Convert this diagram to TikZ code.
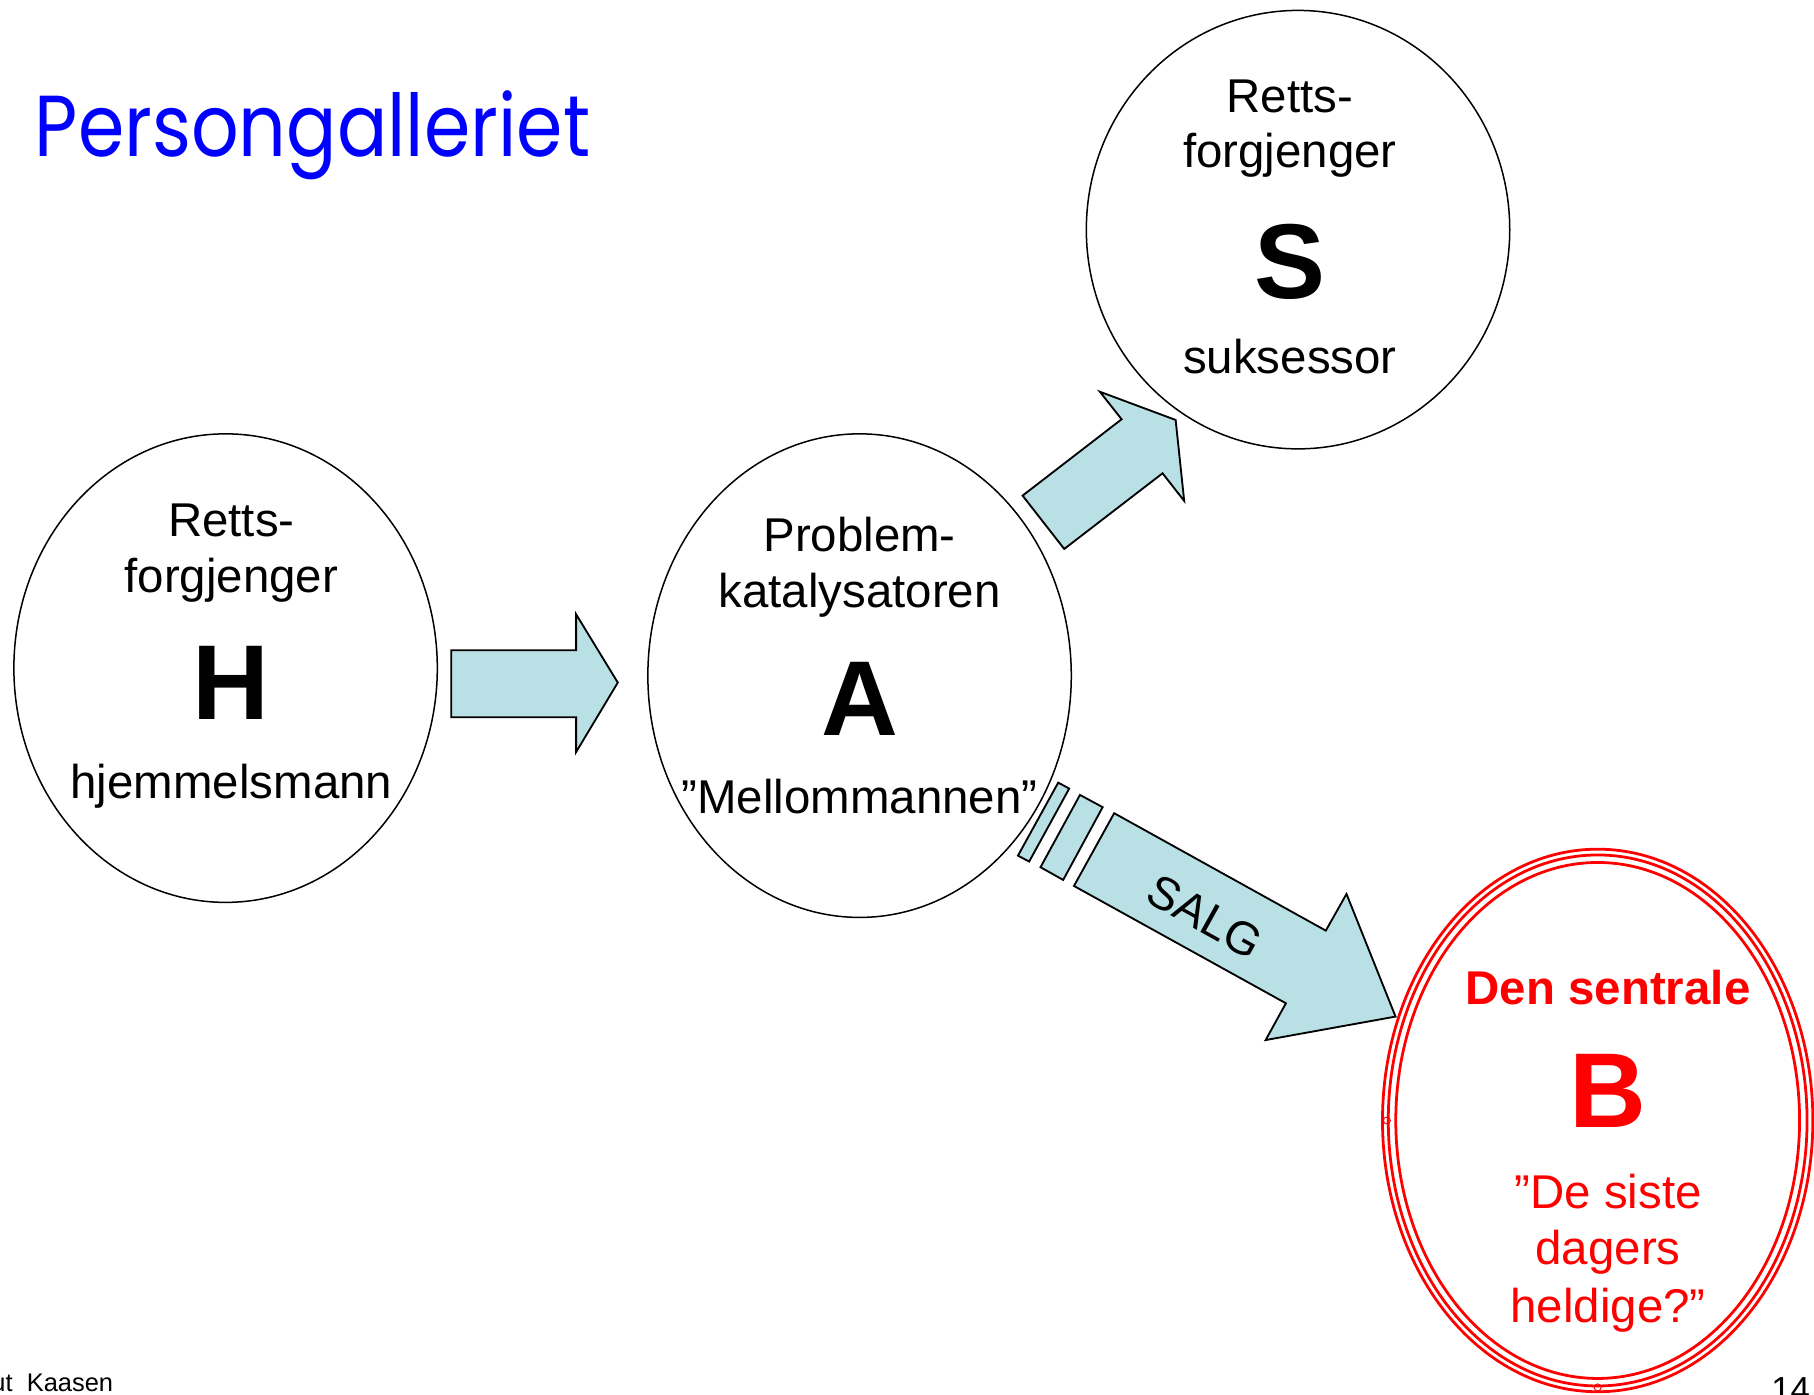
\documentclass[tikz,border=0pt]{standalone}
\usepackage{fontspec}
\setmainfont{Liberation Sans}
\newfontfamily\titlefont{Poppins}
\usetikzlibrary{shapes.geometric}
\definecolor{arrow fill}{RGB}{185,224,228}
\definecolor{title blue}{RGB}{0,0,255}
\def\unit{1pt}
\tikzset{
  word/.style={font=\fontsize{41}{49}\selectfont, anchor=base, inner sep=0pt}, letter/.style={font=\fontsize{92}{92}\selectfont\bfseries, anchor=base, inner sep=0pt}
  }
\tikzstyle{person} = [ellipse, draw=black, line width=1.3pt, inner sep=0pt]
\tikzstyle{ring} = [ellipse, draw=red, line width=2.4pt, inner sep=0pt]
\tikzstyle{block arrow} = [draw=black, line width=1.6pt, fill=arrow fill, line join=miter]

\begin{document}
\begin{tikzpicture}[x=\unit, y=-\unit]
       \useasboundingbox (0,0) rectangle (1568,1205);
       \node[anchor=base west, inner sep=0pt, text=title blue, font=\titlefont\fontsize{64.5}{64.5}\selectfont] (title) at (30,135) {\scalebox{1}[1.16]{Persongalleriet}};

       \foreach \pos/\name/\w/\h in {{(195,577.5)/h/366/405}, {(743,584)/a/366/418}, {(1122,198.5)/s/366/379}} {
           \node[person, minimum width=\w pt, minimum height=\h pt] (\name) at \pos {};
       }
       \foreach \name/\w/\h in {b1/372/469, b2/362/459, b3/349/446} {
           \node[ring, minimum width=\w pt, minimum height=\h pt] (\name) at (1381,968.5) {};
       }
       \draw[red, line width=0.8pt] (b2.west) circle (3) (b2.south) circle (3);

       \foreach \pos/\name/\txt in {{(200,464)/h1/Retts-}, {(200,512)/h2/forgjenger}, {(200,690)/h3/hjemmelsmann},
                                    {(743,477)/a1/Problem-}, {(743,525)/a2/katalysatoren}, {(743,703)/a3/”Mellommannen”},
                                    {(1115,97)/s1/Retts-}, {(1115,145)/s2/forgjenger}, {(1115,323)/s3/suksessor}} {
           \node[word] (\name) at \pos {\txt};
       }
       \foreach \pos/\name/\txt in {{(1390,1045)/b4/”De siste}, {(1390,1093)/b5/dagers}, {(1390,1143)/b6/heldige?”}} {
           \node[word, text=red] (\name) at \pos {\txt};
       }
       \node[word, text=red, font=\fontsize{41}{49}\selectfont\bfseries] (b0) at (1390,868) {Den sentrale};

       \foreach \pos/\name in {{(200,622)/H}, {(743,636)/A}, {(1115,258)/S}} {
           \node[letter] (\name) at \pos {\name};
       }
       \node[letter, text=red] (B) at (1390,975) {B};

       % arrows between the persons
       \draw[block arrow] (390,562) -- (498,562) -- (498,531) -- (534,590) -- (498,650) -- (498,620) -- (390,620) -- cycle;
       \draw[block arrow] (919.9,474.5) -- (883.9,428.4) -- (969.5,362.4) -- (950.7,338.6) -- (1016.2,363) -- (1023.6,433) -- (1004.9,409.1) -- cycle;
       \draw[block arrow] (963.1,702.9) -- (1146,804.4) -- (1163.9,772.7) -- (1206.3,878.7) -- (1094,899) -- (1111.5,867.2) -- (928.3,765.8) -- cycle;
       \draw[block arrow] (933.5,687.1) -- (953.1,697.7) -- (919,760.6) -- (899.4,749.6) -- cycle;
       \draw[block arrow] (914.7,676.5) -- (924.2,681.6) -- (889.6,744.7) -- (879.9,739.6) -- cycle;
       \node[font=\fontsize{40}{40}\selectfont, rotate=-29, inner sep=0pt] (salg) at (1041.5,792.3) {SALG};

       \node[anchor=base east, inner sep=0pt, font=\fontsize{22}{22}\selectfont] (author) at (98,1203) {ut\ \ Kaasen};
       \node[anchor=base west, inner sep=0pt, font=\fontsize{30}{30}\selectfont] (page) at (1531,1211.5) {14};
\end{tikzpicture}
\end{document}
